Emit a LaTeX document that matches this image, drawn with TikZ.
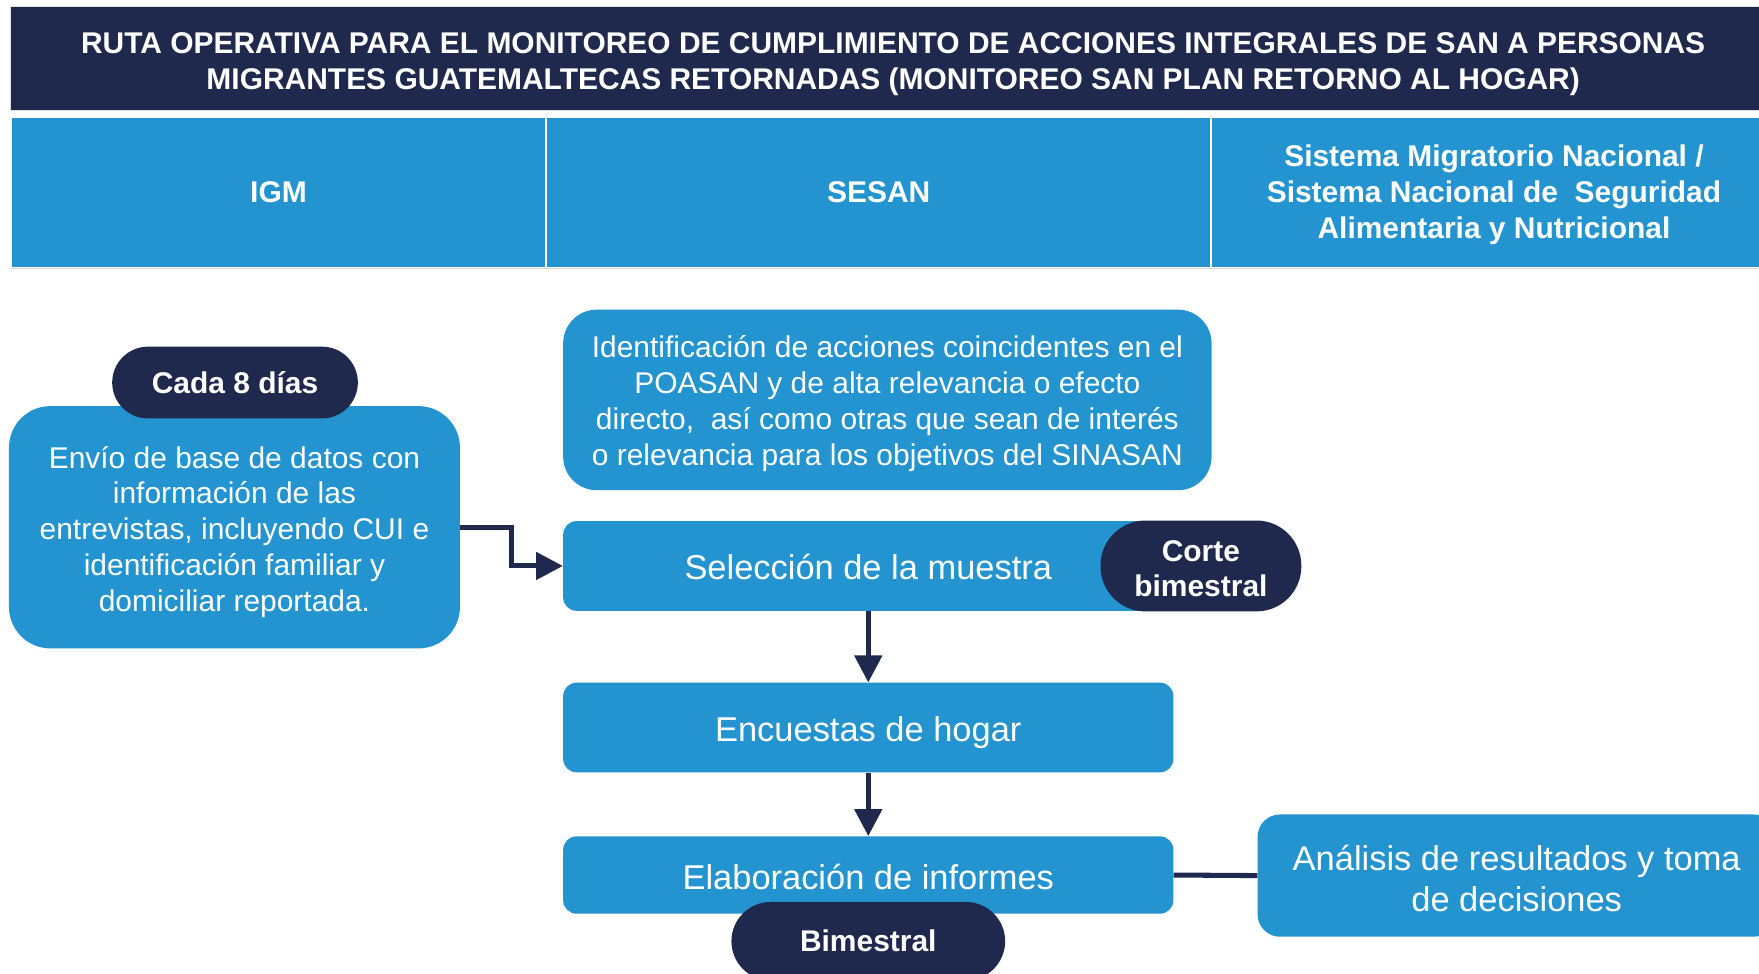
\documentclass[tikz,border=0pt]{standalone}
\usepackage{fontspec}
\setmainfont{Liberation Sans}
\usetikzlibrary{arrows.meta}
\definecolor{azul}{HTML}{1F284D}
\definecolor{celeste}{HTML}{2494D1}
\newcommand{\alto}[1]{\rule{0pt}{#1}}

\begin{document}
\begin{tikzpicture}[x=1pt,y=-1pt,
	caja/.style={fill=celeste,text=white,align=center,inner sep=0pt,font=\fontsize{26.7}{32}\selectfont},
	columna/.style={caja,draw=white,line width=1.5pt,anchor=north west,minimum height=134pt,font=\bfseries\fontsize{26.7}{32}\selectfont},
	paso/.style={caja,minimum width=544pt,minimum height=80pt,rounded corners=12pt,text height=25pt,text depth=0pt,font=\fontsize{30.7}{36}\selectfont},
	pastilla/.style={fill=azul,text=white,align=center,inner sep=0pt,font=\bfseries\fontsize{26.7}{31}\selectfont},
	flecha/.style={draw=azul,line width=4.5pt,-{Triangle[length=24pt,width=24pt]}}]
	\fill[white] (0,0) rectangle (1568,868);
	\useasboundingbox (0,0) rectangle (1568,868);
	% encabezado
	\node[fill=azul,draw=gray!25,text=white,align=center,inner sep=0pt,anchor=north west,minimum width=1574pt,minimum height=93pt,font=\bfseries\fontsize{26.7}{32}\selectfont] (titulo) at (9,5) {\alto{29.5pt}RUTA OPERATIVA PARA EL MONITOREO DE CUMPLIMIENTO DE ACCIONES INTEGRALES DE SAN A PERSONAS\\MIGRANTES GUATEMALTECAS RETORNADAS (MONITOREO SAN PLAN RETORNO AL HOGAR)};
	\node[columna,minimum width=477pt] (igm) at (9,104) {IGM};
	\node[columna,minimum width=593pt] (sesan) at (486,104) {SESAN};
	\node[columna,minimum width=504pt] (sistema) at (1079,104) {\alto{23pt}Sistema Migratorio Nacional /\\Sistema Nacional de\ \ Seguridad\\Alimentaria y Nutricional};
	\draw[gray!30] (9,239) -- (1583,239);
	% IGM
	\node[caja,minimum width=402pt,minimum height=216pt,rounded corners=37pt] (envio) at (209,470) {\alto{28pt}Envío de base de datos con\\información de las\\entrevistas, incluyendo CUI e\\identificación familiar y\\domiciliar reportada.};
	\node[pastilla,minimum width=219pt,minimum height=64pt,rounded corners=32pt] (cada) at (209.5,341) {Cada 8 días};
	% SESAN
	\node[caja,minimum width=578pt,minimum height=161pt,rounded corners=30pt] (identif) at (791,356.5) {\alto{26pt}Identificación de acciones coincidentes en el\\POASAN y de alta relevancia o efecto\\directo,\ \ así como otras que sean de interés\\o relevancia para los objetivos del SINASAN};
	\node[paso] (seleccion) at (774,504.5) {Selección de la muestra};
	\node[pastilla,minimum width=179pt,minimum height=81pt,rounded corners=40pt] (corte) at (1070.5,504.5) {\alto{24pt}Corte\\bimestral};
	\node[paso] (encuestas) at (774,648.5) {Encuestas de hogar};
	\node[paso,minimum height=69pt] (informes) at (774,780) {Elaboración de informes};
	\node[pastilla,minimum width=244pt,minimum height=70pt,rounded corners=35pt] (bimestral) at (774,839) {Bimestral};
	% sistema
	\node[caja,minimum width=462pt,minimum height=109pt,rounded corners=20pt,font=\fontsize{30.7}{36}\selectfont] (analisis) at (1352,780.5) {\alto{28pt}Análisis de resultados y toma\\de decisiones};
	% conectores
	\draw[flecha] (envio.east) -- ++(46,0) |- (seleccion.west);
	\draw[flecha] (seleccion.south) -- (encuestas.north);
	\draw[flecha] (encuestas.south) -- (informes.north);
	\draw[azul,line width=4.5pt] (informes.east) -- (analisis.west);
\end{tikzpicture}
\end{document}
